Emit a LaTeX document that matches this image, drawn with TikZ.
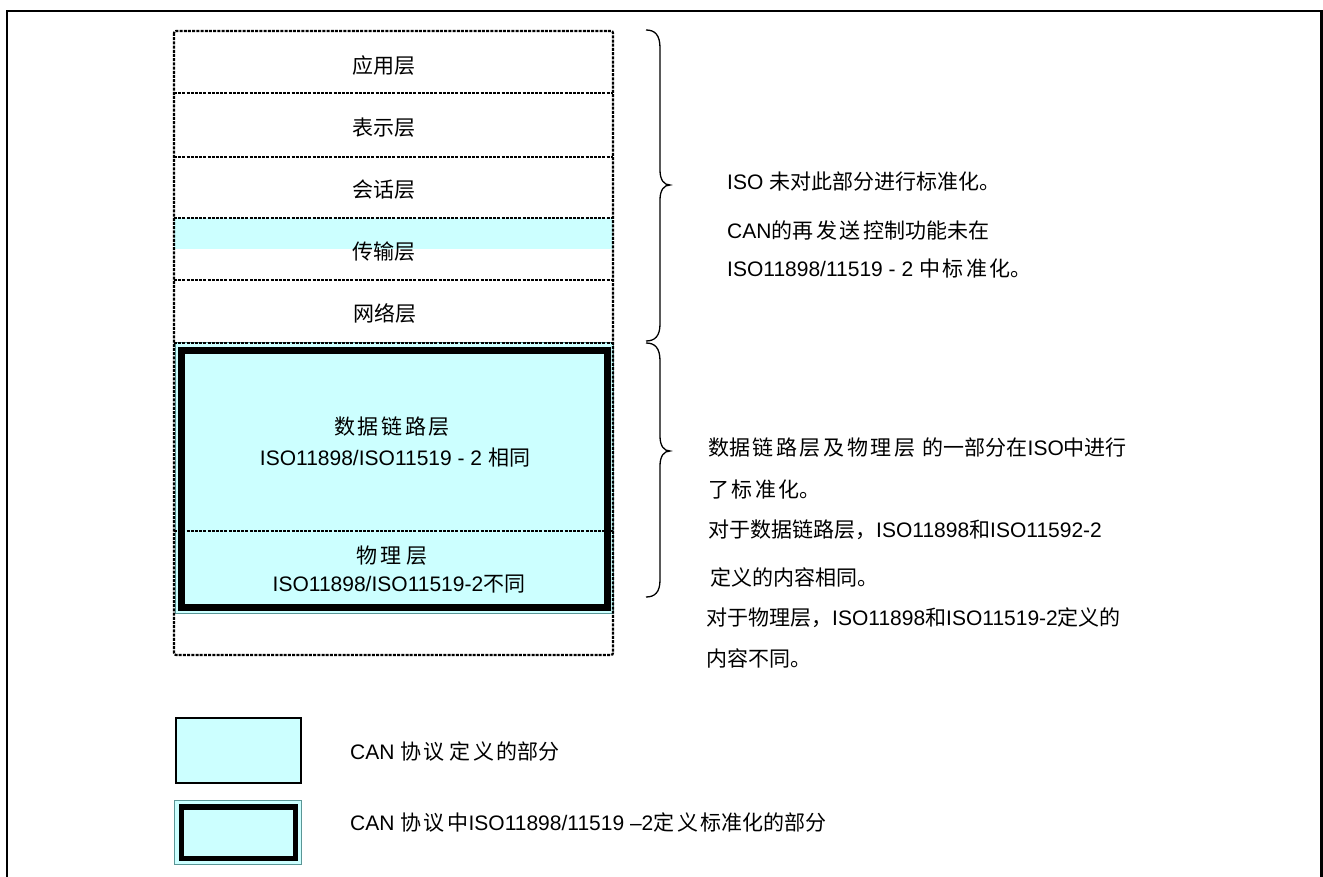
\documentclass[tikz,border=0pt]{standalone}
\usepackage{fontspec}
\setmainfont{Liberation Sans}
\newfontfamily\cjk{Noto Sans CJK SC}
\newcommand\mygap{\hspace{2.6pt}}
\definecolor{lcyan}{RGB}{204,255,255}
\definecolor{tealline}{RGB}{90,150,150}
\begin{document}
\begin{tikzpicture}[x=1pt,y=-1pt,
  txt/.style={inner sep=0pt, font=\fontsize{21}{25}\selectfont, text height=15.5pt, text depth=0pt},
  lbl/.style={txt, anchor=west},
  dotline/.style={line width=2.2pt, dash pattern=on 3pt off 1.2pt},
  thickframe/.style={line width=7pt},
  bracestyle/.style={line width=1.3pt},
  frame/.style={line width=2.5pt}]
\useasboundingbox (0,0) rectangle (1323,877);
\fill[white] (0,0) rectangle (1323,877);
% outer frame
\draw[frame] (7,880) -- (7,11) -- (1321.5,11) -- (1321.5,880);

% fills
\fill[lcyan] (174,218) rectangle (613,249);
\fill[lcyan] (175,343) rectangle (613,613);
\draw[tealline, line width=1pt] (175,343) rectangle (613,613);
\draw[thickframe] (181,351) rectangle (607,607);

% layer dividers
\foreach \yy in {93,157,218,280,343,531}
  \draw[dotline] (174,\yy) -- (613,\yy);
% stack outline
\draw[dotline, rounded corners=2pt] (174,31) rectangle (613,655);

% layer texts
\node[txt] (app) at (384,66) {\cjk 应用层};
\node[txt] (pres) at (384,128) {\cjk 表示层};
\node[txt] (sess) at (384,190) {\cjk 会话层};
\node[txt] (trans) at (384,252) {\cjk 传输层};
\node[txt] (net) at (385,314) {\cjk 网络层};
\node[txt] (dl) at (392,427) {\cjk 数\mygap 据\mygap 链\mygap 路\mygap 层};
\node[txt] (dliso) at (395,458) {ISO11898/ISO11519 - 2 {\cjk 相同}};
\node[txt] (phy) at (392,556) {\cjk 物\mygap 理\hspace{5pt}层};
\node[txt] (phyiso) at (399,584) {ISO11898/ISO11519-2{\cjk 不同}};

% braces
\draw[bracestyle] (646,30) .. controls (655,30) and (660,35) .. (660,48) -- (660,170)
  .. controls (660,180) and (664,185) .. (670,185)
  .. controls (664,185) and (660,190) .. (660,200) -- (660,324)
  .. controls (660,336) and (655,341) .. (646,341);
\draw[bracestyle] (646,343) .. controls (655,343) and (660,348) .. (660,361) -- (660,436)
  .. controls (660,446) and (664,451) .. (670,451)
  .. controls (664,451) and (660,456) .. (660,466) -- (660,580)
  .. controls (660,592) and (655,597) .. (646,597);

% right-hand notes
\node[lbl] (n1) at (727,182) {ISO {\cjk 未对此部分进行标准化。}};
\node[lbl] (n2) at (727,231) {CAN{\cjk 的再\mygap 发\mygap 送\mygap 控制功能未在}};
\node[lbl] (n3) at (727,269) {ISO11898/11519 - 2 {\cjk 中\mygap 标\mygap 准\mygap 化。}};
\node[lbl] (m1) at (708,448) {{\cjk 数据\mygap 链\mygap 路\mygap 层\mygap 及\mygap 物\mygap 理\mygap 层\mygap\ 的一部分在}ISO{\cjk 中进行}};
\node[lbl] (m2) at (708,490) {\cjk 了\mygap 标\mygap 准\mygap 化。};
\node[lbl] (m3) at (708,530) {{\cjk 对于数据链路层，}ISO11898{\cjk 和}ISO11592-2};
\node[lbl] (m4) at (710,578) {\cjk 定义的内容相同。};
\node[lbl] (m5) at (706,618) {{\cjk 对于物理层，}ISO11898{\cjk 和}ISO11519-2{\cjk 定义的}};
\node[lbl] (m6) at (706,659) {\cjk 内容不同。};

% legend
\draw[fill=lcyan, line width=1.5pt] (176,718) rectangle (301,783);
\fill[lcyan] (174,800) rectangle (301,864);
\draw[tealline, line width=1pt] (174,800) rectangle (301,864);
\draw[line width=5.5pt] (181.5,807) rectangle (295.3,858.5);
\node[lbl] (leg1) at (350,752) {CAN {\cjk 协\mygap 议\ 定\mygap 义\mygap 的部分}};
\node[lbl] (leg2) at (350,823) {CAN {\cjk 协\mygap 议\mygap 中}ISO11898/11519 –2{\cjk 定\mygap 义\mygap 标准化的部分}};
\end{tikzpicture}
\end{document}
